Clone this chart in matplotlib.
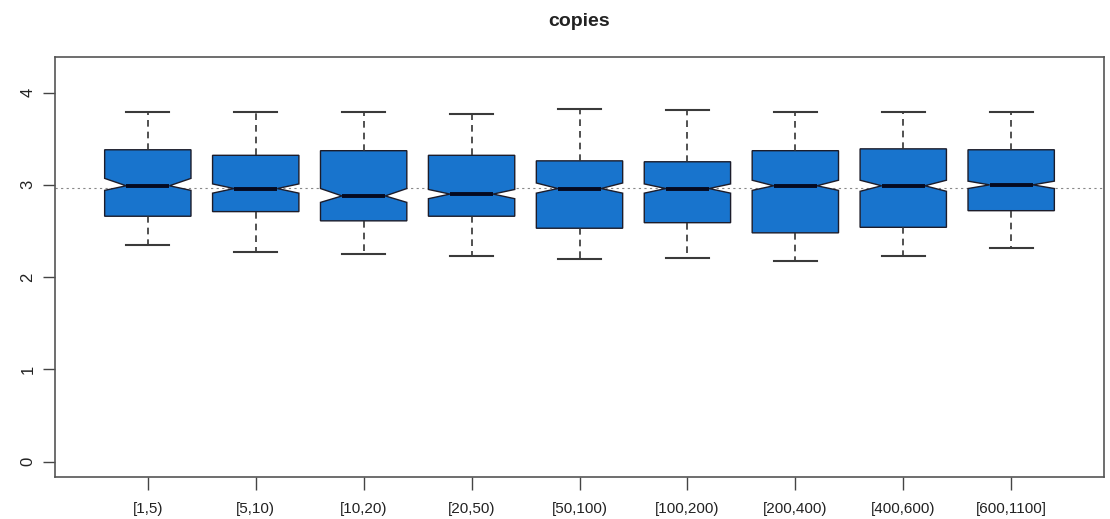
#!/usr/bin/env python

import matplotlib.pyplot as plt
import numpy as np

"""
Notched boxplot of copies per bin, R-style
"""

categories = ["[1,5)", "[5,10)", "[10,20)", "[20,50)", "[50,100)",
              "[100,200)", "[200,400)", "[400,600)", "[600,1100]"]
whis_low = [2.35, 2.27, 2.25, 2.23, 2.20, 2.21, 2.17, 2.23, 2.32]
q1 = [2.66, 2.71, 2.61, 2.66, 2.53, 2.59, 2.48, 2.54, 2.72]
medians = [2.99, 2.96, 2.88, 2.90, 2.96, 2.96, 2.99, 2.99, 3.00]
q3 = [3.38, 3.32, 3.37, 3.32, 3.26, 3.25, 3.37, 3.39, 3.38]
whis_high = [3.79, 3.79, 3.79, 3.77, 3.82, 3.81, 3.79, 3.79, 3.79]
notch_low = [2.94, 2.91, 2.81, 2.85, 2.91, 2.91, 2.94, 2.93, 2.96]
notch_high = [3.07, 3.01, 2.96, 2.95, 3.02, 3.01, 3.05, 3.05, 3.04]
ref_level = 2.97

plt.rcParams['font.family'] = ['Liberation Sans', 'DejaVu Sans']

fig = plt.figure(figsize=(11.1, 5.19), dpi=100)
ax = fig.add_axes([55 / 1110, 1 - 477 / 519, (1104 - 55) / 1110, (477 - 57) / 519])

stats = []
for i in range(len(categories)):
    stats.append(dict(label=categories[i], whislo=whis_low[i], q1=q1[i], med=medians[i],
                      q3=q3[i], whishi=whis_high[i], cilo=notch_low[i], cihi=notch_high[i],
                      fliers=[]))

positions = np.arange(1, len(categories) + 1)
ax.axhline(ref_level, color="#888888", linestyle=(0, (2, 3)), linewidth=0.8, zorder=1)
ax.bxp(stats, positions=positions, widths=0.8, patch_artist=True, shownotches=True,
       showfliers=False,
       boxprops=dict(facecolor="#1874CD", edgecolor="#1c1c2a", linewidth=1.0),
       medianprops=dict(color="#050a20", linewidth=2.8, solid_capstyle="butt"),
       whiskerprops=dict(color="#333333", linewidth=1.2, linestyle=(0, (4, 3))),
       capprops=dict(color="#3a3a3a", linewidth=1.5),
       capwidths=0.4, zorder=2)

ax.set_xlim(0.14, 9.86)
ax.set_ylim(-0.165, 4.385)
ax.set_xticks(positions)
ax.set_xticklabels(categories, fontsize=11, color="#222222")
ax.set_yticks([0, 1, 2, 3, 4])
ax.set_yticklabels(["0", "1", "2", "3", "4"], rotation=90, va="center", fontsize=12, color="#222222")
ax.tick_params(axis="x", length=9, width=1.0, color="#444444", pad=9)
ax.tick_params(axis="y", length=9, width=1.0, color="#444444", pad=5)
for s in ax.spines.values():
    s.set_color("#555555")
    s.set_linewidth(1.2)

fig.text(579 / 1110, 1 - 21 / 519, "copies", ha="center", va="center", fontsize=14, fontweight="bold",
         color="#222222")

fig.savefig("out.png", dpi=100)
